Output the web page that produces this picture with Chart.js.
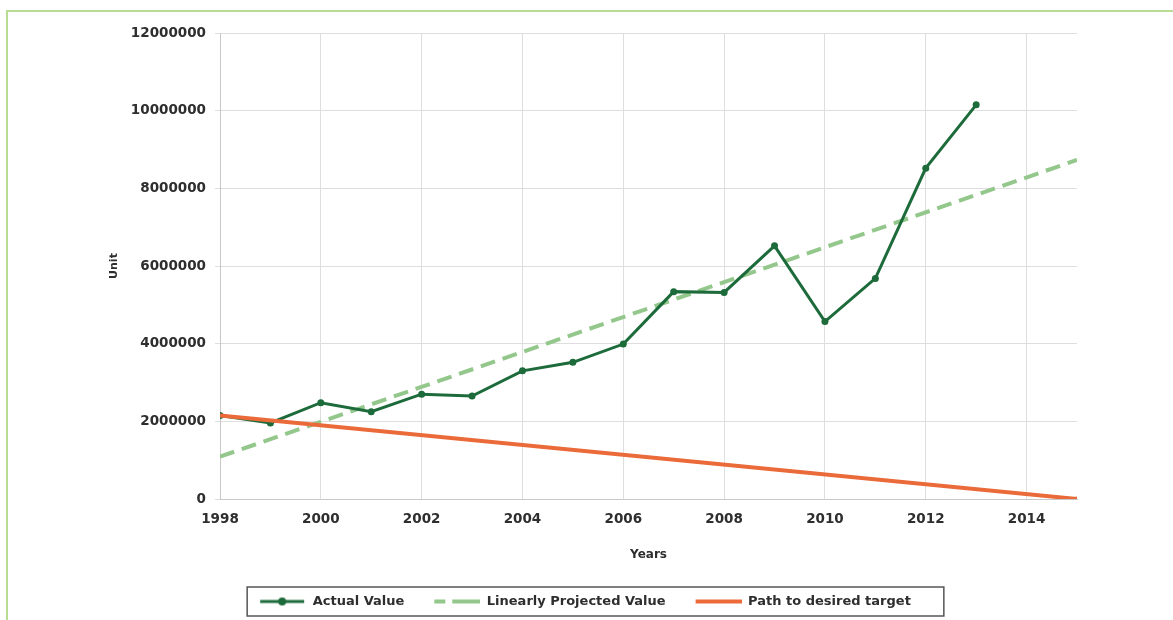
<!DOCTYPE html>
<html><head><meta charset="utf-8">
<script src="https://cdn.jsdelivr.net/npm/chart.js@4.4.0/dist/chart.umd.min.js"></script>
<style>
html,body{margin:0;padding:0;background:#fff;}
#wrap{position:relative;width:1173px;height:620px;overflow:hidden;background:#fff;}
#frame{position:absolute;left:6px;top:10px;width:1300px;height:800px;border-left:2px solid #b8dd92;border-top:2px solid #b8dd92;}
canvas{position:absolute;left:0;top:0;}
</style></head><body>
<div id="wrap"><div id="frame"></div><canvas id="c" width="1173" height="620"></canvas></div>
<script>
// ---- data ----
const years = [1998,1999,2000,2001,2002,2003,2004,2005,2006,2007,2008,2009,2010,2011,2012,2013];
const actualValues = [2150000,1960000,2480000,2250000,2700000,2650000,3300000,3520000,3990000,5340000,5320000,6520000,4570000,5680000,8520000,10150000];
const projectedYears = [1998,2015];
const projectedValues = [1090000,8730000];
const targetYears = [1998,2015];
const targetValues = [2150000,0];
const seriesNames = ['Actual Value','Linearly Projected Value','Path to desired target'];
const xTitle = 'Years';
const yTitle = 'Unit';

const GREEN = '#1d6b3b';
const LIGHT = '#93c78b';
const ORANGE = '#ea6a3a';
const FONT = '"DejaVu Sans", sans-serif';
const TXT = '#2e2e2e';

function toPts(xs, ys){ return xs.map((x,i)=>({x:x, y:ys[i]})); }

function sample(kind){
  const c = document.createElement('canvas');
  c.width = 70; c.height = 12;
  const g = c.getContext('2d');
  const y = 6;
  if (kind === 0){
    g.strokeStyle = GREEN; g.lineWidth = 3;
    g.beginPath(); g.moveTo(24,y); g.lineTo(68,y); g.stroke();
    g.fillStyle = GREEN; g.beginPath(); g.arc(46,y,4,0,Math.PI*2); g.fill();
  } else if (kind === 1){
    g.strokeStyle = LIGHT; g.lineWidth = 4;
    g.beginPath(); g.moveTo(24,y); g.lineTo(35,y); g.stroke();
    g.beginPath(); g.moveTo(42,y); g.lineTo(70,y); g.stroke();
  } else {
    g.strokeStyle = ORANGE; g.lineWidth = 4;
    g.beginPath(); g.moveTo(24,y); g.lineTo(70,y); g.stroke();
  }
  return c;
}
const samples = [sample(0), sample(1), sample(2)];

const legendBox = {
  id: 'legendBox',
  afterLayout(chart){
    const lg = chart.legend;
    if (lg) { lg.left -= 19; lg.right -= 19; }
  },
  afterDraw(chart){
    const lg = chart.legend;
    if (!lg || !lg.legendHitBoxes || !lg.legendHitBoxes.length) return;
    const hb = lg.legendHitBoxes;
    let l = Infinity, r = -Infinity, cy = 0;
    hb.forEach(h => { l = Math.min(l, h.left); r = Math.max(r, h.left + h.width); cy = h.top + h.height/2; });
    const ctx = chart.ctx;
    ctx.save();
    ctx.strokeStyle = '#555';
    ctx.lineWidth = 1.5;
    const x0 = l + 11, x1 = r + 33;
    ctx.strokeRect(x0, cy - 14.5, x1 - x0, 29);
    ctx.restore();
  }
};

new Chart(document.getElementById('c'), {
  type: 'line',
  data: {
    datasets: [
      { label: seriesNames[0], data: toPts(years, actualValues), borderColor: GREEN, backgroundColor: GREEN,
        borderWidth: 3, pointRadius: 3.5, pointBackgroundColor: GREEN, pointBorderWidth: 0, tension: 0, order: 1 },
      { label: seriesNames[1], data: toPts(projectedYears, projectedValues), borderColor: LIGHT, backgroundColor: LIGHT,
        borderWidth: 4, borderDash: [15, 8], pointRadius: 0, tension: 0, order: 2 },
      { label: seriesNames[2], data: toPts(targetYears, targetValues), borderColor: ORANGE, backgroundColor: ORANGE,
        borderWidth: 4, pointRadius: [0, 2.5], pointBackgroundColor: ORANGE, pointBorderWidth: 0, tension: 0, order: 0 }
    ]
  },
  options: {
    responsive: false,
    animation: false,
    events: [],
    layout: { padding: { left: 108, right: 96, top: 33, bottom: 2 } },
    plugins: {
      tooltip: { enabled: false },
      legend: {
        position: 'bottom',
        labels: {
          usePointStyle: true,
          pointStyleWidth: 70,
          padding: 6,
          color: TXT,
          font: { family: FONT, size: 13, weight: 'bold' },
          generateLabels: (chart) => seriesNames.map((n, i) => ({
            text: n, pointStyle: samples[i], fillStyle: 'rgba(0,0,0,0)', strokeStyle: 'rgba(0,0,0,0)',
            lineWidth: 0, hidden: false, datasetIndex: i, fontColor: TXT
          }))
        }
      }
    },
    scales: {
      x: {
        type: 'linear', min: 1998, max: 2015,
        afterFit: (s) => { s.height = 90; },
        grid: { color: '#dedede', drawTicks: false },
        border: { color: '#c8c8c8' },
        ticks: { stepSize: 2, includeBounds: false, padding: 12, color: TXT,
          font: { family: FONT, size: 13.5, weight: 'bold' }, callback: (v) => String(v) },
        title: { display: true, text: xTitle, color: TXT, font: { family: FONT, size: 12, weight: 'bold' },
          padding: { top: 0, bottom: 27 } }
      },
      y: {
        min: 0, max: 12000000,
        afterFit: (s) => { s.width = 112; },
        grid: { color: '#dedede', tickLength: 5 },
        border: { color: '#c8c8c8' },
        ticks: { stepSize: 2000000, padding: 9, color: TXT,
          font: { family: FONT, size: 13.5, weight: 'bold' }, callback: (v) => String(v) },
        title: { display: true, text: yTitle, color: TXT, font: { family: FONT, size: 11, weight: 'bold' },
          padding: { top: 0, bottom: 0 } }
      }
    }
  },
  plugins: [legendBox]
});
</script>
</body></html>
